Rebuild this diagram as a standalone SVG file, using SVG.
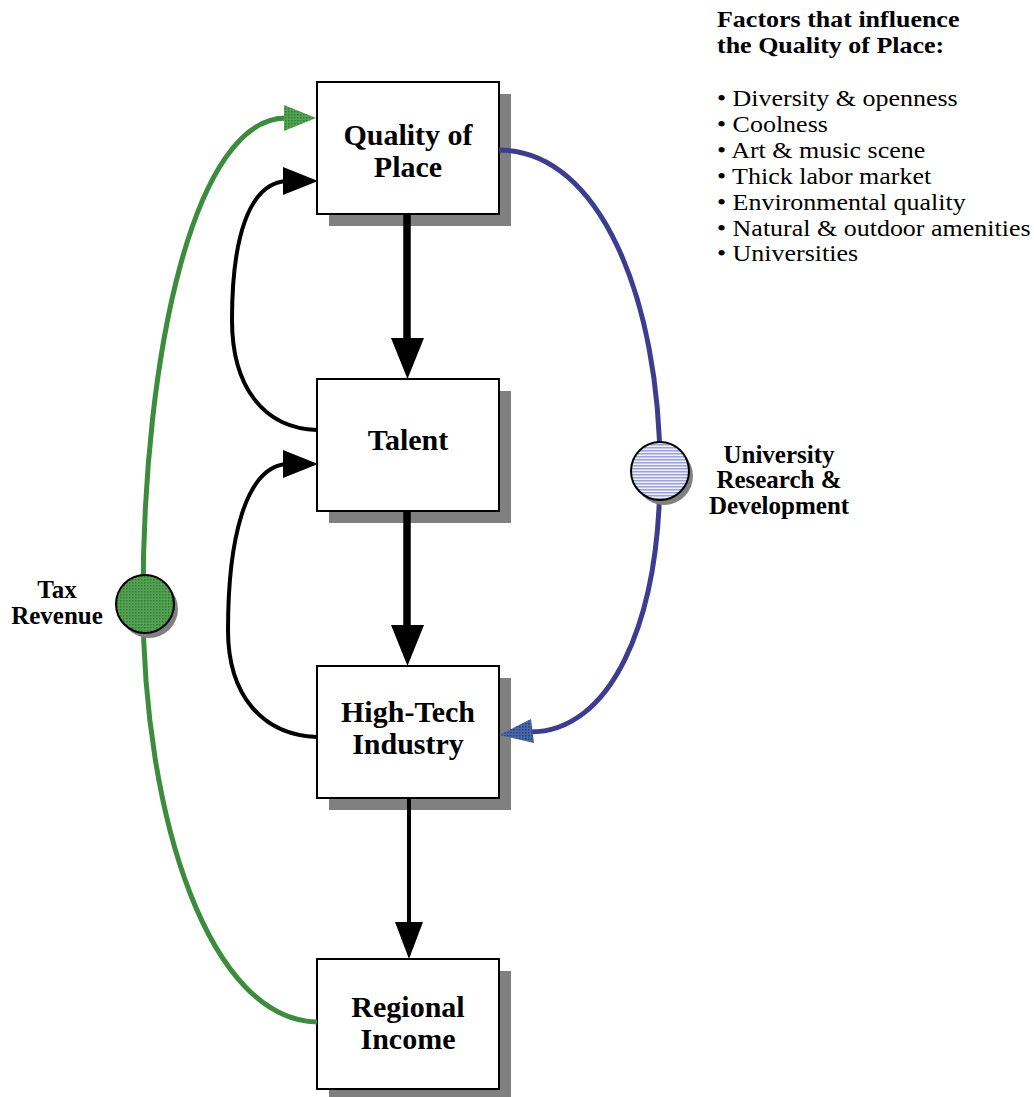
<svg xmlns="http://www.w3.org/2000/svg" width="1034" height="1097" viewBox="0 0 1034 1097">
<style>
.box{fill:#fff;stroke:#000;stroke-width:2}
.shadow{fill:#808080}
.bt{font-family:"Liberation Serif","Times New Roman",serif;font-weight:bold;font-size:30px;text-anchor:middle;fill:#000}
.lbl{font-family:"Liberation Serif","Times New Roman",serif;font-weight:bold;font-size:25px;text-anchor:middle;fill:#000}
.hd{font-family:"Liberation Serif","Times New Roman",serif;font-weight:bold;font-size:23px;fill:#000}
.li{font-family:"Liberation Serif","Times New Roman",serif;font-size:23px;fill:#000}
.blk{fill:none;stroke:#000;stroke-width:4}
</style>
<defs>
<pattern id="pg" width="3" height="3" patternUnits="userSpaceOnUse">
<rect width="3" height="3" fill="#55a255"/>
<rect x="0" y="0" width="1.5" height="1.5" fill="#2f7d32"/>
</pattern>
<pattern id="pb" width="3" height="3" patternUnits="userSpaceOnUse">
<rect width="3" height="3" fill="#eceefa"/>
<rect x="0" y="0" width="3" height="1.5" fill="#9ea2d6"/>
</pattern>
<pattern id="pba" width="3" height="3" patternUnits="userSpaceOnUse">
<rect width="3" height="3" fill="#4a68a8"/>
<rect x="0" y="0" width="1.5" height="1.5" fill="#2c3f7a"/>
</pattern>
</defs>

<g id="quality-of-place">
<rect class="shadow" x="329" y="94" width="182" height="132"/>
<rect class="box" x="317" y="82" width="182" height="132"/>
<text class="bt" x="408" y="145">Quality of</text>
<text class="bt" x="408" y="177">Place</text>
</g>

<g id="talent">
<rect class="shadow" x="329" y="391" width="182" height="132"/>
<rect class="box" x="317" y="379" width="182" height="132"/>
<text class="bt" x="408" y="450">Talent</text>
</g>

<g id="high-tech-industry">
<rect class="shadow" x="329" y="678" width="182" height="132"/>
<rect class="box" x="317" y="666" width="182" height="132"/>
<text class="bt" x="408" y="722">High-Tech</text>
<text class="bt" x="408" y="754">Industry</text>
</g>

<g id="regional-income">
<rect class="shadow" x="329" y="971" width="182" height="132"/>
<rect class="box" x="317" y="959" width="182" height="130"/>
<text class="bt" x="408" y="1017">Regional</text>
<text class="bt" x="408" y="1049">Income</text>
</g>

<g id="connectors">
<path d="M407,214 L407,345" stroke-width="7.5" stroke="#000" fill="none"/>
<polygon points="391,338 424,338 407.5,379" fill="#000"/>
<path d="M407,511 L407,630" stroke-width="7.5" stroke="#000" fill="none"/>
<polygon points="391,625 424,625 407.5,666" fill="#000"/>
<path d="M409,798 L409,928" stroke-width="4" stroke="#000" fill="none"/>
<polygon points="395,922 423,922 409,959" fill="#000"/>

<path class="blk" d="M317,430 C262,428 232,385 232,320 C232,240 248,184 286,181"/>
<polygon points="318,181 283,167 283,195" fill="#000"/>
<path class="blk" d="M317,737 C262,735 228,695 228,630 C228,540 245,468 286,464"/>
<polygon points="318,464 283,450 283,478" fill="#000"/>

<path d="M317,1022 C210,1020 143,820 143,600 C143,350 195,118 286,118" fill="none" stroke="#3b8d3d" stroke-width="5"/>
<polygon points="316,118 284,105 284,131" fill="url(#pg)"/>

<path d="M499,150 C600,150 660,300 660,470 C660,625 610,732 530,732" fill="none" stroke="#3c3d8e" stroke-width="5"/>
<polygon points="499,735 531,719 534,743" fill="url(#pba)"/>
</g>

<g id="tax-revenue">
<circle cx="149" cy="609" r="29" fill="#808080"/>
<circle cx="145" cy="604" r="29" fill="url(#pg)" stroke="#000" stroke-width="2"/>
<text class="lbl" x="57" y="598">Tax</text>
<text class="lbl" x="57" y="624">Revenue</text>
</g>

<g id="university-rd">
<circle cx="664" cy="476" r="29" fill="#808080"/>
<circle cx="660" cy="471" r="29" fill="url(#pb)" stroke="#000" stroke-width="2"/>
<text class="lbl" x="779" y="463">University</text>
<text class="lbl" x="779" y="488">Research &amp;</text>
<text class="lbl" x="779" y="514">Development</text>
</g>

<g id="factors-list" transform="translate(717,0) scale(1.13,1)">
<text class="hd" x="0" y="27">Factors that influence</text>
<text class="hd" x="0" y="53">the Quality of Place:</text>
<text class="li" x="0" y="106">• Diversity &amp; openness</text>
<text class="li" x="0" y="132">• Coolness</text>
<text class="li" x="0" y="158">• Art &amp; music scene</text>
<text class="li" x="0" y="184">• Thick labor market</text>
<text class="li" x="0" y="210">• Environmental quality</text>
<text class="li" x="0" y="236">• Natural &amp; outdoor amenities</text>
<text class="li" x="0" y="261">• Universities</text>
</g>
</svg>
